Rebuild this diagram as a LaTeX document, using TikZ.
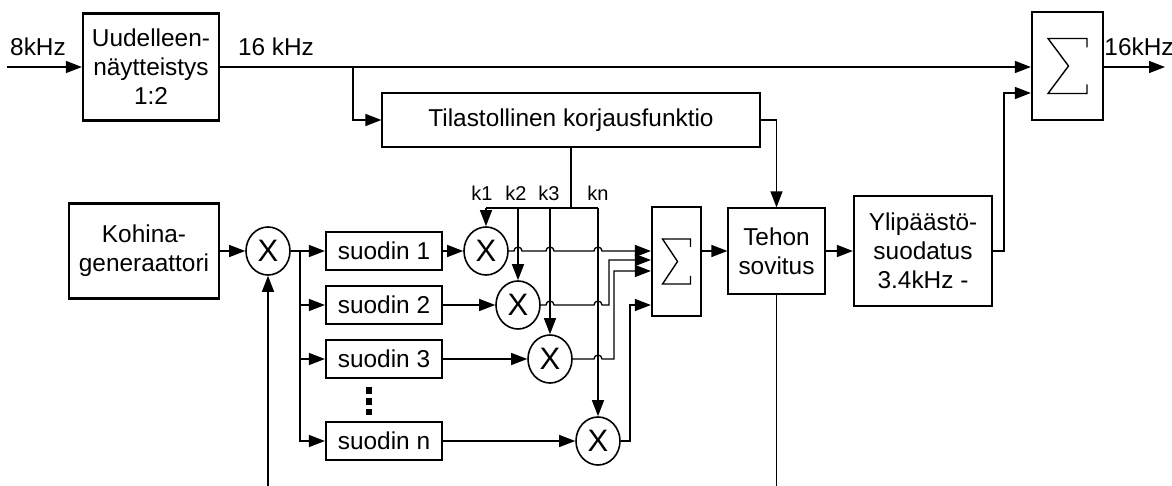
\documentclass[tikz,border=0pt]{standalone}
\usepackage{fontspec}
\setmainfont{Liberation Sans}
\usepackage{tikz}
\usetikzlibrary{calc}
\usetikzlibrary{arrows.meta}
\usetikzlibrary{shapes.geometric}
\tikzset{>={Triangle[length=8pt,width=6pt]}}
\tikzstyle{blk} = [draw=black, line width=1.1pt, inner sep=0, align=center, font=\fontsize{12.2}{14.5}\selectfont]
\tikzstyle{thinblk} = [blk, line width=0.6pt]
\tikzstyle{filt} = [blk, minimum width=58pt, minimum height=19pt]
\tikzstyle{mult} = [ellipse, draw=black, line width=0.8pt, inner sep=0, minimum width=22pt, minimum height=24pt, font=\fontsize{15.5}{15.5}\selectfont]
\tikzstyle{lbl} = [draw=none, inner sep=0, font=\fontsize{12.2}{14.5}\selectfont]
\tikzstyle{klbl} = [lbl, font=\fontsize{10}{12}\selectfont]

% sigma inside a summing box: node, half width, half height, tick length
\newcommand{\sumsign}[4]{%
  \draw [line width=0.7pt] ($(#1)+(#2,-#3+#4)$) -- ($(#1)+(#2,-#3)$) -- ($(#1)+(-#2,-#3)$) -- ($(#1)+(1,0)$) -- ($(#1)+(-#2,#3)$) -- ($(#1)+(#2,#3)$) -- ($(#1)+(#2,#3-#4)$);}
% little bridge where a wire crosses a k line
\newcommand{\jump}[1]{-- ($#1+(-4,0)$) arc [start angle=180, end angle=0, radius=2pt]}

\begin{document}
\begin{tikzpicture}[x=0.5pt, y=-0.5pt, line width=0.65pt]
\useasboundingbox (0,0) rectangle (1172,486);
% 16 kHz path
\node [blk, minimum width=68pt, minimum height=53.5pt] (res) at (151,67) {Uudelleen-\\näytteistys\\1:2};
\node [thinblk, minimum width=189pt, minimum height=27pt] (stat) at (571,120) {Tilastollinen korjausfunktio};
\node [blk, minimum width=35.5pt, minimum height=54pt] (bigsum) at (1067.5,66) {};
\node [lbl] (fin) at (38,47) {8kHz};
\node [lbl] (mid) at (276,47) {16 kHz};
\node [lbl] (fout) at (1139,47) {16kHz};
% noise bank
\node [blk, minimum width=75pt, minimum height=47.5pt] (noise) at (144,251) {Kohina-\\generaattori};
\node [mult] (m0) at (268,251) {X};
\node [filt] (f1) at (384,251) {suodin 1};
\node [filt] (f2) at (384,305) {suodin 2};
\node [filt] (f3) at (384,359) {suodin 3};
\node [filt] (fn) at (384,441) {suodin n};
\node [mult] (m1) at (486,251) {X};
\node [mult] (m2) at (518,305) {X};
\node [mult] (m3) at (550,359) {X};
\node [mult] (mn) at (598,441) {X};
\node [blk, minimum width=24.5pt, minimum height=54.5pt] (sum) at (676.5,261.5) {};
\node [thinblk, minimum width=48.5pt, minimum height=43pt] (power) at (776.5,251) {Tehon\\sovitus};
\node [blk, minimum width=69pt, minimum height=55pt] (hpf) at (923,251) {Ylipäästö-\\suodatus\\3.4kHz -};
\node [klbl] (k1) at (482,193.5) {k1};
\node [klbl] (k2) at (516,193.5) {k2};
\node [klbl] (k3) at (549,193.5) {k3};
\node [klbl] (kn) at (598,193.5) {kn};

\coordinate (in) at (7,67);
\coordinate (out) at (1165,67);
\coordinate (br) at (353,67);
\coordinate (kbus) at (571,208);
\coordinate (split) at (300,251);
\coordinate (b1) at (268,486);
\coordinate (b2) at (776.5,486);
\coordinate (up) at (1004,93);
\coordinate (c2) at (609,260);
\coordinate (c3) at (614,271);
\coordinate (cn) at (630,305);

\draw [->] (in) -- (res);
\draw [->] (res) -- (res -| bigsum.west);
\draw [->] (br) |- (stat);
\draw [->] (stat) -| (power);
\draw (stat) -- (kbus);
\draw (m1 |- kbus) -- (mn |- kbus);
\foreach \k in {1,2,3,n} \draw [->] (m\k |- kbus) -- (m\k);

\draw [->] (noise) -- (m0);
\draw [->] (b1) -- (m0);
\draw (m0) -- (split);
\foreach \k in {1,2,3,n} \draw [->] (split) |- (f\k);
\foreach \k in {1,2,3,n} \draw [->] (f\k) -- (m\k);
\draw [line width=3.3pt, dash pattern=on 3.5pt off 2pt] (369,387) -- (369,415);

\draw [->] (m1) \jump{(m2 |- m1)} \jump{(m3 |- m1)} \jump{(mn |- m1)} -- (m1 -| sum.west);
\draw [->] (m2) \jump{(m3 |- m2)} \jump{(mn |- m2)} -- (m2 -| c2) -- (c2) -- (c2 -| sum.west);
\draw [->] (m3) \jump{(mn |- m3)} -- (m3 -| c3) -- (c3) -- (c3 -| sum.west);
\draw [->] (mn) -- (mn -| cn) -- (cn) -- (cn -| sum.west);

\draw [->] (sum.east |- power) -- (power);
\draw [->] (power) -- (hpf);
\draw (power) -- (b2);
\draw [->] (hpf) -| (up) -- (up -| bigsum.west);
\draw [->] (bigsum.east |- res) -- (out);
\sumsign{sum}{14}{22.5}{8}
\sumsign{bigsum}{19.5}{27.5}{9}
\end{tikzpicture}
\end{document}
